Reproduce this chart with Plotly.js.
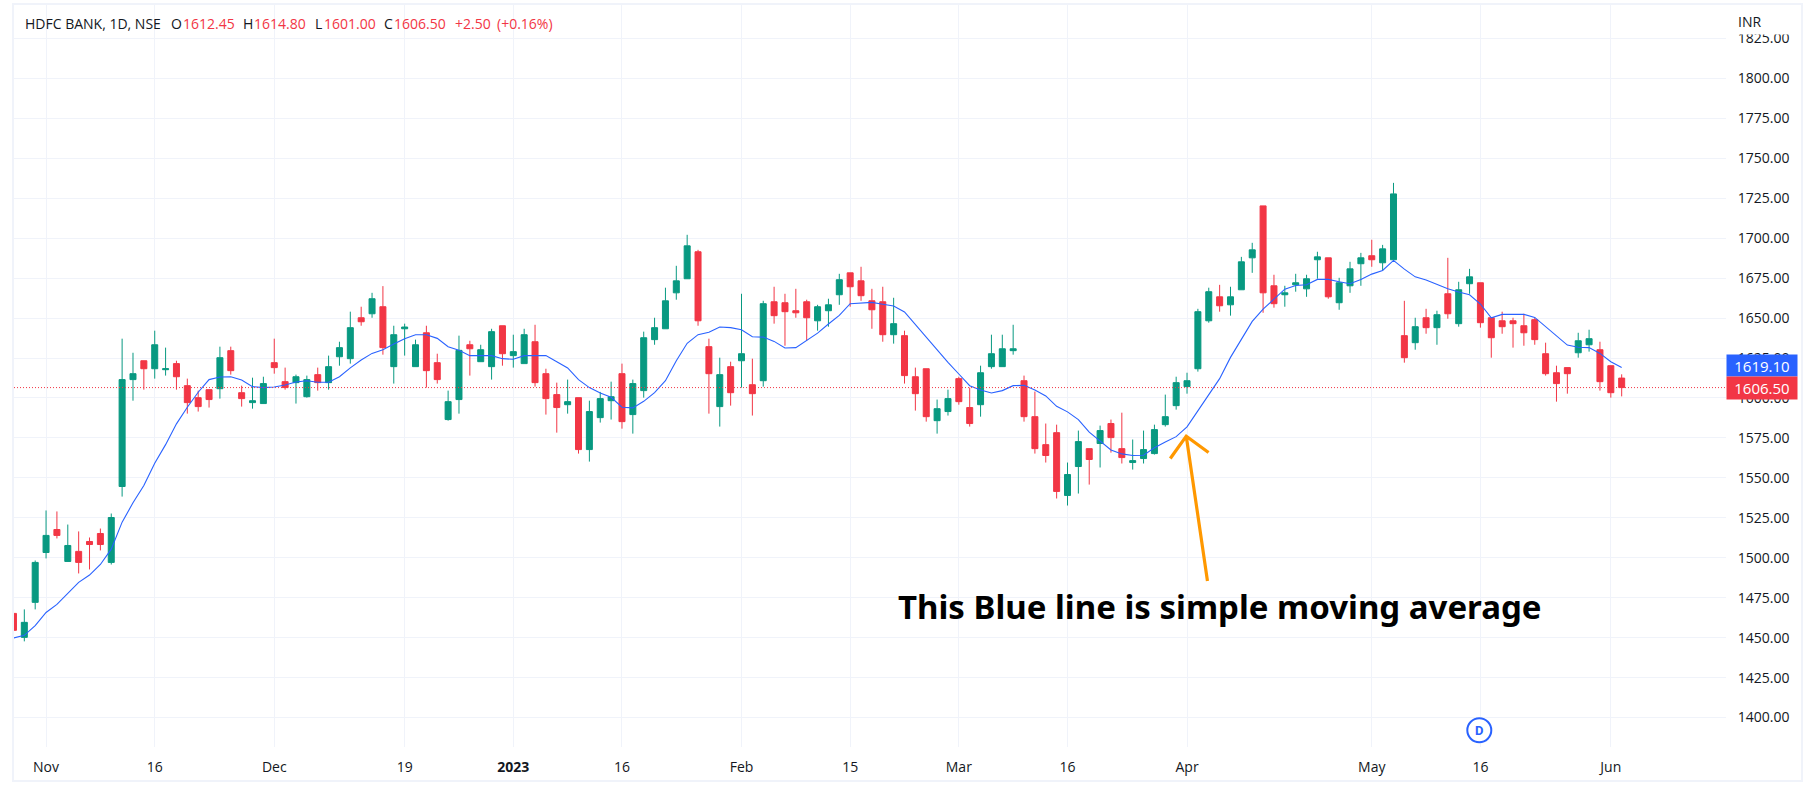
<!DOCTYPE html>
<html>
<head>
<meta charset="utf-8">
<script src="https://cdn.plot.ly/plotly-3.0.1.min.js"></script>
<style>
html,body{margin:0;padding:0;background:#fff;width:1814px;height:790px;overflow:hidden}
#frame{position:absolute;left:12px;top:3px;width:1791px;height:779px;box-sizing:border-box;border:2px solid #F0F3FA}
#chart{position:absolute;left:0;top:0;width:1814px;height:790px}
</style>
</head>
<body>
<div id="frame"></div>
<div id="chart"></div>
<script>
const open = [1465.2,1450.2,1472.1,1503.3,1517.7,1497.7,1504,1510.2,1515.2,1497.1,1544.6,1611.5,1623.3,1618.3,1617.7,1621.5,1607.7,1600.2,1605.2,1605.8,1629.6,1603.3,1597.1,1596.5,1622.1,1610.2,1609.6,1600.8,1614.6,1609.6,1625.8,1624.6,1650.2,1652.7,1657.1,1619.6,1643.3,1619.6,1640.8,1622.1,1586.5,
1599,1633.3,1622.7,1619.6,1645.2,1626.5,1621.5,1635.2,1615.2,1602.1,1595.8,1600.2,1567.7,1587.7,1598.3,1615.2,1589.6,1604.6,1636.5,1643.3,1665.8,1674.6,1691.5,1632.1,1594.6,1619.6,1623.3,1608.3,1610.8,1660.2,1659.6,1654.6,1660.2,1648.3,1654.6,1664.6,1678.3,1673.3,1660.8,1660.2,1639.6,
1639,1613.3,1618.3,1585.8,1591.5,1612.1,1594,1595.8,1619.6,1619.6,1629.6,1610.8,1588.3,1570.8,1578.3,1539,1557.1,1568.3,1571.5,1584,1568.3,1559.6,1562.1,1565.2,1583.3,1595.2,
1607.1,1618.3,1648.3,1663.3,1658.3,1667.7,1687.7,1720.2,1670.2,1664.6,1670.8,1668.3,1686.5,1687.7,1659.6,1670.2,1684,1689,1684.6,1686.5,1639,1634.6,1650.2,1644,1665.2,1646.5,1671.5,1672.1,1650.2,1648.3,1648.3,1645.2,1649,1627.7,1615.8,1619,1628.3,1633.3,1630.2,1620.2,1612.45];
const high = [1467.7,1467.7,1498.3,1529.6,1529,1520.8,1516.5,1512.7,1518.3,1527.7,1637.1,1628.3,1623.3,1642.1,1631.5,1623.3,1612.1,1604.6,1605.2,1632.1,1632.1,1607.7,1612.7,1613.3,1637.1,1619,1614.6,1614,1619,1626.5,1635.2,1654,1657.1,1665.8,1670,1645.2,1646.5,1636.5,1645.2,1627.7,1604.6,
1639,1635.8,1633.3,1643.3,1645.2,1639.6,1643.3,1645.8,1618.3,1609.6,1611.5,1600.2,1598.3,1603.8,1610.2,1621.5,1611.5,1641.5,1650.2,1669,1682.7,1702.1,1692.7,1637.1,1625.2,1622.7,1665.2,1624.6,1660.8,1669.6,1665.2,1668.3,1661.5,1658.3,1662.1,1677.7,1678.3,1682.1,1668.3,1669.6,1662.7,
1642.1,1619,1618.3,1599,1605.2,1613.3,1606.5,1620.2,1639.6,1639.6,1645.8,1614,1604,1584,1583.3,1559.6,1579.6,1568.3,1582.7,1586.5,1590.8,1574,1579.6,1583.3,1602.1,1613.3,
1615.8,1655.8,1669,1670.8,1669.6,1688.3,1697.1,1720.2,1677.1,1670.2,1677.7,1677.1,1691.5,1687.7,1675.2,1685.2,1690.8,1699,1695.8,1734.6,1660.8,1650.2,1655.8,1654.6,1687.7,1672.7,1680.8,1672.1,1650.2,1654,1650.2,1652.7,1650.2,1634.6,1620.2,1619,1640.8,1642.7,1635.2,1620.2,1614.8];
const low = [1452.1,1447.7,1467.7,1499.6,1512.1,1497.7,1490.2,1492.7,1504.6,1495.8,1538.3,1598.3,1605.2,1612.1,1614,1605.2,1590.2,1591.5,1594,1599.6,1614.6,1594.6,1593.3,1596.5,1615.2,1605.2,1596.5,1600.2,1604.6,1605.2,1620.2,1621.5,1645.2,1650.2,1627.1,1609,1626.5,1619.6,1606.5,1609,1585.8,
1590.2,1614,1622.7,1611.5,1620.2,1619,1621.5,1607.1,1589.6,1578.3,1590.2,1565.2,1560.2,1584.6,1586.5,1580.8,1577.7,1600.2,1633.3,1643.3,1661.5,1674.6,1645.2,1590.2,1582.1,1595.2,1606.5,1589,1607.1,1646.5,1632.7,1650.2,1635.8,1642.1,1644.6,1658.3,1657.1,1660.8,1643.3,1635.2,1634,
1609,1592.1,1585.2,1577.7,1589,1595.8,1582.1,1588.3,1618.3,1619.6,1627.1,1585.2,1565.2,1559.6,1537.1,1532.7,1540.2,1545.8,1556.5,1565.8,1559,1555.2,1559,1564.6,1582.1,1592.7,
1602.7,1616.5,1647.1,1654,1651.5,1667.7,1678.3,1653.3,1656.5,1657.1,1666.5,1663.3,1674.6,1662.1,1655.2,1665.8,1670.2,1682.1,1679.6,1686.5,1622.1,1630.2,1640.2,1633.3,1649.6,1644.6,1665.2,1644,1625.2,1640.2,1631.5,1632.7,1633.3,1614,1597.7,1602.7,1625.2,1629,1604.6,1600.2,1601];
const close = [1454.6,1459.6,1497.1,1514,1514,1507.7,1497.1,1508.3,1508.3,1525.2,1611.5,1615.2,1618.3,1633.3,1618.3,1613.3,1597.1,1594.6,1599,1625.2,1617.1,1599.6,1598.3,1609,1619,1606.5,1613.3,1611.5,1609.6,1619.6,1631.5,1644,1647.7,1662.1,1631.5,1639.6,1644.4,1633.3,1617.1,1611.5,1597.7,
1629.8,1630.8,1630.2,1641.5,1627.7,1629,1639.6,1609.6,1599.6,1594,1597.7,1567.7,1591.5,1599.6,1600.8,1585.2,1609,1637.7,1644,1660.8,1673.3,1695.2,1648.3,1615.2,1614.6,1603.3,1627.7,1602.7,1659,1651.5,1654,1653.3,1650.2,1657.1,1658.3,1674,1669.6,1664,1655.2,1639.6,1646.5,
1614,1602.7,1588.3,1593.3,1599.6,1597.7,1584,1615.8,1627.7,1630.8,1630.8,1588.3,1568.3,1564,1541.5,1552.1,1572.7,1561.5,1579.6,1575.2,1562.7,1560.8,1567.7,1580.2,1588.3,1609.6,
1610.8,1654,1666.5,1657.7,1663.3,1685.2,1692.7,1665.8,1659,1665.8,1672.1,1674.6,1688.3,1663.3,1672.1,1680.8,1687.7,1686.5,1693.3,1727.7,1625.2,1644.6,1644,1652.1,1652.7,1667.7,1675.8,1647.1,1637.7,1644.6,1646.5,1640.8,1636.5,1615.2,1609,1615.2,1635.8,1637.1,1610.2,1603.3,1606.5];
const sma = [1449.8,1451.5,1457.5,1465.8,1470.8,1477.5,1484.6,1489.2,1495.8,1505.4,1522.3,1534.4,1545.2,1559.2,1570.8,1583.8,1594.2,1603.6,1611.5,1613.1,1613.3,1611.3,1607.1,1606.5,1606.9,1608.1,1610,1610.8,1609.8,1609.8,1613.3,1618.8,1623.8,1627.9,1630.2,1633.8,1637.1,1639.6,1639.6,1637.3,1632.1,
1629.8,1626.5,1626.5,1626.5,1624.6,1624.2,1626.5,1626.5,1626.5,1622.7,1618.8,1611.5,1606.5,1603.1,1600.4,1594.2,1593.8,1597.9,1603.3,1610.8,1623.3,1634.2,1639.6,1641.1,1644.4,1644,1642.7,1638.3,1638.1,1635.4,1631.3,1631.5,1635.8,1640.6,1646.3,1651.7,1659,1659.6,1659.8,1658.6,1657.5,
1653.8,1645.8,1637.9,1629.6,1622.3,1615,1607.7,1605,1603.1,1604.6,1607.7,1607.9,1605,1601.3,1594.8,1591.3,1586.5,1578.6,1573.3,1567.5,1565,1564,1564.2,1568.8,1572.5,1575.8,
1581.9,1591.7,1602.1,1612.1,1625.4,1636.3,1647.9,1655.6,1661.9,1668.1,1670.4,1670.8,1674.2,1674.2,1672.7,1671.5,1674.2,1677.5,1679.8,1686.1,1680.6,1675.8,1673.8,1671.3,1668.3,1666.3,1664.6,1658.8,1650.2,1652.3,1652.5,1652.3,1650.4,1644.8,1639,1633.1,1631.7,1631.5,1627.9,1622.7,1619.1];
const bars = open.map((_, i) => i);

const priceTicks = [1400,1425,1450,1475,1500,1525,1550,1575,1600,1625,1650,1675,1700,1725,1750,1775,1800,1825];
const priceTickText = priceTicks.map(v => v.toFixed(2));
const dateTickBars = [3,13,24,36,46,56,67,77,87,97,108,125,135,147];
const dateTickText = ['Nov','16','Dec','19','<b>2023</b>','16','Feb','15','Mar','16','Apr','May','16','Jun'];

const arrowBars = [109.88,107.93,106.46,107.93,109.98];
const arrowPrices = [1485.5,1576.1,1562.1,1576.1,1565.9];

const lastClose = 1606.5, lastSma = 1619.1;
const headerTexts = ['HDFC BANK, 1D, NSE','O','1612.45','H','1614.80','L','1601.00','C','1606.50','+2.50','(+0.16%)'];
const headerLefts = [23.5,170,181.5,242,253,314,322.5,383,393,454,496];
const GREEN = '#089981', RED = '#F23645', BLUE = '#2962FF', TEXT = '#131722', GRID = '#F0F3FA';
const FONT = '"Open Sans", sans-serif';
const L = 14, R = 1726, T = 5, B = 747;
const fx = p => (p - L) / (R - L);
const fy = p => (B - p) / (B - T);

const traces = [
  {type:'candlestick', x:bars, open:open, high:high, low:low, close:close, whiskerwidth:0, hoverinfo:'skip', showlegend:false,
   increasing:{line:{color:GREEN,width:1},fillcolor:GREEN},
   decreasing:{line:{color:RED,width:1},fillcolor:RED}},
  {type:'scatter', mode:'lines', x:bars, y:sma, line:{color:BLUE,width:1.1}, hoverinfo:'skip', showlegend:false},
  {type:'scatter', mode:'lines', x:arrowBars, y:arrowPrices, line:{color:'#FF9800',width:3.2}, hoverinfo:'skip', showlegend:false}
];

const headerNotes = headerTexts.map((t, i) => ({
  xref:'paper', yref:'paper', x:fx(headerLefts[i]), y:fy(23.5), xanchor:'left', yanchor:'middle', xshift:-1,
  text:t, showarrow:false,
  font:{family:FONT, size:14, color:(i === 0 || t.length === 1) ? TEXT : RED}
}));

const layout = {
  width:1814, height:790,
  margin:{l:L, r:1814-R, t:T, b:790-B, pad:0},
  paper_bgcolor:'rgba(0,0,0,0)', plot_bgcolor:'rgba(0,0,0,0)',
  boxgap:0.2, boxgroupgap:0.31,
  showlegend:false,
  font:{family:FONT,size:14,color:TEXT},
  xaxis:{type:'linear', range:[0.05,157.6], tickmode:'array', tickvals:dateTickBars, ticktext:dateTickText,
    showgrid:true, gridcolor:GRID, gridwidth:1, zeroline:false, showline:false, ticks:'outside', ticklen:7, tickcolor:'rgba(0,0,0,0)',
    rangeslider:{visible:false}, tickfont:{family:FONT,size:14,color:TEXT}, tickangle:0},
  yaxis:{side:'right', range:[1381.6,1845.9], tickmode:'array', tickvals:priceTicks, ticktext:priceTickText,
    showgrid:true, gridcolor:GRID, gridwidth:1, zeroline:false, showline:false, ticks:'outside', ticklen:8, tickcolor:'rgba(0,0,0,0)',
    tickfont:{family:FONT,size:14,color:TEXT}},
  shapes:[
    {type:'line', xref:'paper', yref:'y', x0:0, x1:1, y0:lastClose, y1:lastClose, line:{color:RED,width:1,dash:'1px,2px'}, layer:'above'},
    {type:'circle', xref:'paper', yref:'paper', x0:fx(1467.3), x1:fx(1491.3), y0:fy(742.3), y1:fy(718.3), fillcolor:'#FFFFFF', line:{color:BLUE,width:2}, layer:'above'}
  ],
  annotations:headerNotes.concat([
    {xref:'paper', yref:'paper', x:fx(1727), y:fy(6), xanchor:'left', yanchor:'top', width:72, height:27, bgcolor:'#FFFFFF', borderpad:0, text:' ', showarrow:false},
    {xref:'paper', yref:'paper', x:fx(1736), y:fy(21), xanchor:'left', yanchor:'middle', text:'INR', showarrow:false, font:{family:FONT,size:14,color:TEXT}},
    {xref:'paper', yref:'y', x:fx(1726), y:lastSma, yshift:2, xanchor:'left', yanchor:'middle', width:70, height:21, bgcolor:BLUE, borderpad:0, text:lastSma.toFixed(2), showarrow:false, font:{family:FONT,size:15,color:'#FFFFFF'}},
    {xref:'paper', yref:'y', x:fx(1726), y:lastClose, xanchor:'left', yanchor:'middle', width:70, height:22, bgcolor:RED, borderpad:0, text:lastClose.toFixed(2), showarrow:false, font:{family:FONT,size:15,color:'#FFFFFF'}},
    {xref:'paper', yref:'paper', x:fx(1220), y:fy(606), xanchor:'center', yanchor:'middle', text:'<b>This Blue line is simple moving average</b>', showarrow:false, font:{family:'"Noto Sans", sans-serif',size:33,color:'#000000'}},
    {xref:'paper', yref:'paper', x:fx(1479.3), y:fy(730.3), xanchor:'center', yanchor:'middle', text:'<b>D</b>', showarrow:false, font:{family:'Roboto, sans-serif',size:13,color:BLUE}}
  ])
};
Plotly.newPlot('chart', traces, layout, {staticPlot:true, displayModeBar:false});
</script>
</body>
</html>
